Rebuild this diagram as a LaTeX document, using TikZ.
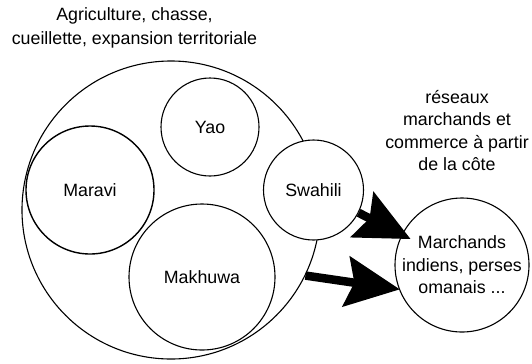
\documentclass[tikz,border=0pt]{standalone}
\usepackage{fontspec}
\setmainfont{Liberation Sans}
\usetikzlibrary{arrows.meta}
\begin{document}
\begin{tikzpicture}[x=1bp,y=-1bp,
  circ/.style={circle, draw, line width=1.1bp, fill=white, inner sep=0pt,
    minimum size=#1, align=center, font=\fontsize{17.8bp}{22.5bp}\selectfont},
  lbl/.style={align=center, inner sep=0pt, font=\fontsize{17.8bp}{22.5bp}\selectfont},
  bigarrow/.style={line width=8.5bp, -{Stealth[length=54bp,width=50bp,inset=8bp]}}]
\useasboundingbox (0,0) rectangle (532,363);
\node[lbl, font=\fontsize{17.8bp}{24bp}\selectfont] (title) at (134.5,27.5) {Agriculture, chasse,\\cueillette, expansion territoriale};
\node[lbl] (reseaux) at (457,130.5) {réseaux\\marchands et\\commerce à partir\\de la côte};
\node[circ=298bp] (big) at (171,210) {};
\node[circ=98bp] (yao) at (210,127) {Yao};
\node[circ=128bp, line width=1.4bp] (maravi) at (90,190) {Maravi};
\node[circ=146bp] (makhuwa) at (202,277) {Makhuwa};
\node[circ=100bp] (sw) at (313.5,190) {Swahili};
\node[circ=134bp] (mar) at (462,265) {Marchands\\indiens, perses\\omanais ...};
\draw[bigarrow, shorten >=-10bp] (sw) -- (mar);
\draw[bigarrow, shorten >=-1bp] (big.-26.6) -- (mar.201);
\end{tikzpicture}
\end{document}
